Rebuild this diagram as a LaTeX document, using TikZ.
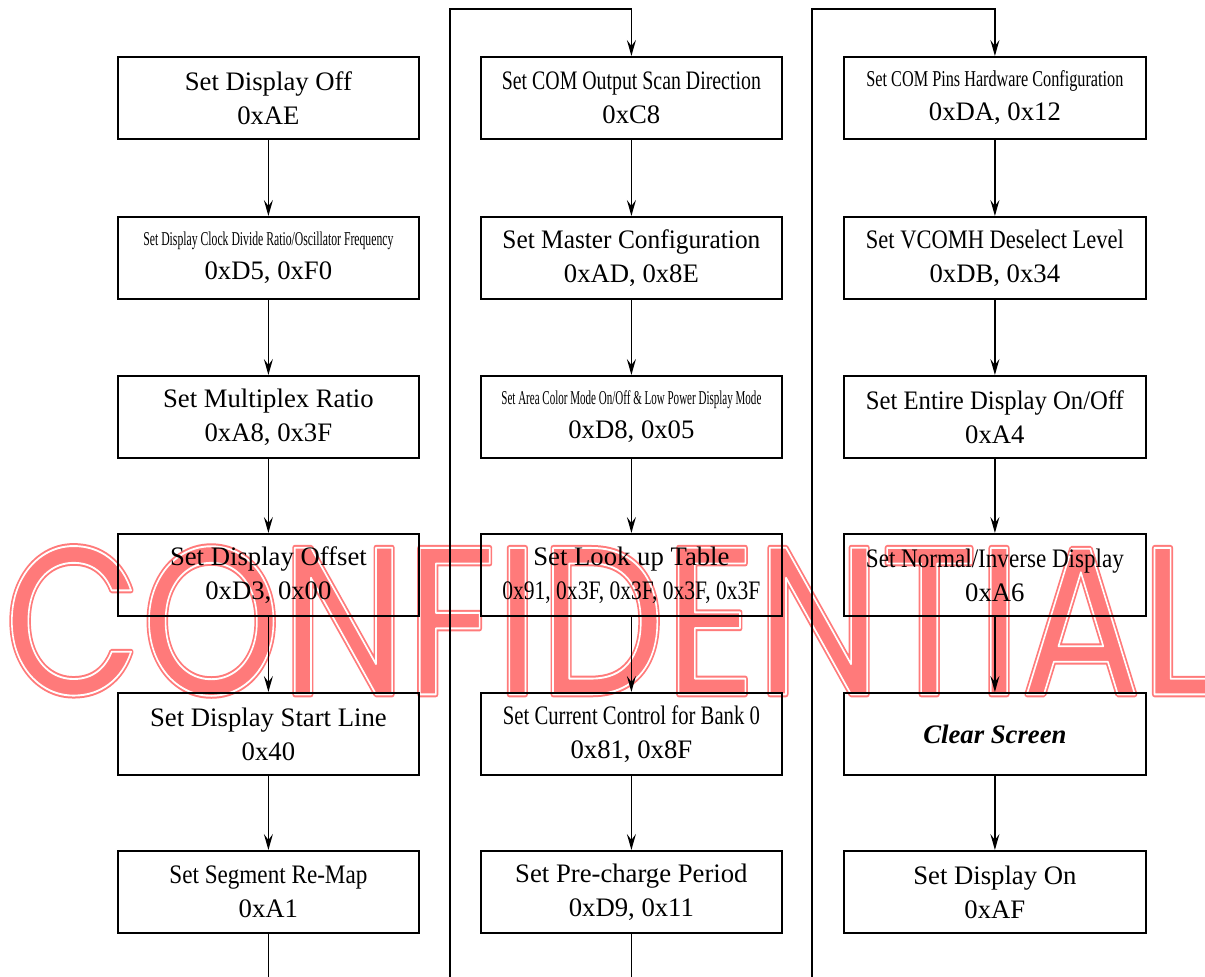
\documentclass[tikz,border=0pt]{standalone}
\usepackage{fontspec}
\setmainfont{Liberation Serif}
\newfontfamily\wmfont{Poppins}
\usepackage{graphicx}
\usetikzlibrary{arrows.meta}
\newcommand\fitw[2]{\resizebox{#1}{\height}{#2}}
\tikzset{
  cmd/.style={draw, line width=1.8pt, minimum width=301pt, minimum height=82pt,
    inner sep=0pt, align=center, anchor=north west,
    font=\fontsize{26.7}{34}\selectfont},
  flow/.style={line width=1.4pt, -{Stealth[length=16pt,width=9pt,inset=6pt]}},
  plainline/.style={line width=1.4pt},
  wmark/.style={anchor=south west, inner sep=0pt},
}
\begin{document}
\begin{tikzpicture}[x=1pt,y=-1pt]
\useasboundingbox (0,0) rectangle (1205,977);
% watermark
\node[wmark, text=red!52] (wm1) at (4,696)
  {\resizebox{1213pt}{148pt}{\wmfont\special{pdf:literal direct 1 j 1 J 2 Tr 0.28 w}CONFIDENTIAL\special{pdf:literal direct 0 Tr}}};
\node[wmark, text=white] (wm2) at (4,696)
  {\resizebox{1213pt}{148pt}{\wmfont\special{pdf:literal direct 1 j 1 J 1 Tr 0.09 w}CONFIDENTIAL\special{pdf:literal direct 0 Tr}}};
% column 1
\node[cmd] (a1) at (117,56) {Set Display Off\\0xAE};
\node[cmd] (a2) at (117,216) {\fitw{250pt}{\fontsize{19.6}{34}\selectfont Set Display Clock Divide Ratio/Oscillator Frequency}\\0xD5, 0xF0};
\node[cmd] (a3) at (117,375) {Set Multiplex Ratio\\0xA8, 0x3F};
\node[cmd] (a4) at (117,533) {Set Display Offset\\0xD3, 0x00};
\node[cmd] (a5) at (117,692) {Set Display Start Line\\0x40};
\node[cmd] (a6) at (117,850) {\fitw{198pt}{Set Segment Re-Map}\\0xA1};
% column 2
\node[cmd] (b1) at (480,56) {\fitw{259pt}{Set COM Output Scan Direction}\\0xC8};
\node[cmd] (b2) at (480,216) {\fitw{258pt}{Set Master Configuration}\\0xAD, 0x8E};
\node[cmd] (b3) at (480,375) {\fitw{260pt}{\fontsize{19.6}{34}\selectfont Set Area Color Mode On/Off \& Low Power Display Mode}\\0xD8, 0x05};
\node[cmd] (b4) at (480,533) {Set Look up Table\\\fitw{258pt}{0x91, 0x3F, 0x3F, 0x3F, 0x3F}};
\node[cmd] (b5) at (480,692) {\fitw{257pt}{Set Current Control for Bank 0}\\0x81, 0x8F};
\node[cmd] (b6) at (480,850) {Set Pre-charge Period\\0xD9, 0x11};
% column 3
\node[cmd, minimum width=302pt] (c1) at (843,56) {\fitw{257pt}{\fontsize{22.7}{34}\selectfont Set COM Pins Hardware Configuration}\\0xDA, 0x12};
\node[cmd, minimum width=302pt] (c2) at (843,216) {\fitw{258pt}{Set VCOMH Deselect Level}\\0xDB, 0x34};
\node[cmd, minimum width=302pt] (c3) at (843,375) {\fitw{258pt}{Set Entire Display On/Off}\\0xA4};
\node[cmd, minimum width=302pt] (c4) at (843,533) {\fitw{258pt}{Set Normal/Inverse Display}\\0xA6};
\node[cmd, minimum width=302pt] (c5) at (843,692) {\textbf{\textit{Clear Screen}}};
\node[cmd, minimum width=302pt] (c6) at (843,850) {Set Display On\\0xAF};
% vertical arrows
\foreach \p/\q in {a1/a2,a2/a3,a3/a4,a4/a5,a5/a6,b1/b2,b2/b3,b3/b4,b4/b5,b5/b6,c1/c2,c2/c3,c3/c4,c4/c5,c5/c6}
  \draw[flow] (\p.south) -- (\q.north);
% loops
\coordinate (floor) at (0,977);
\coordinate (l1b) at (450,977);
\coordinate (l1t) at (450,9);
\coordinate (l2b) at (812,977);
\coordinate (l2t) at (812,9);
\draw[plainline] (a6.south) -- (a6.south |- floor);
\draw[plainline] (b6.south) -- (b6.south |- floor);
\draw[flow] (l1b) -- (l1t) -| (b1.north);
\draw[flow] (l2b) -- (l2t) -| (c1.north);
\end{tikzpicture}
\end{document}
